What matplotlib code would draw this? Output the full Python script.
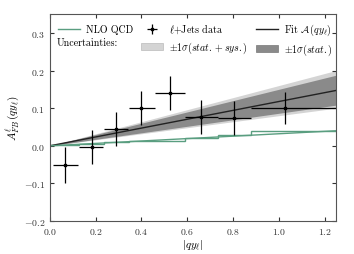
import matplotlib
matplotlib.use("Agg")
import matplotlib.pyplot as plt
import numpy as np
from matplotlib.patches import Patch
from matplotlib.lines import Line2D

plt.rcParams['font.family'] = 'cmr10'
plt.rcParams['mathtext.fontset'] = 'cm'
plt.rcParams['axes.formatter.use_mathtext'] = True

# data points
x_data = [0.066, 0.182, 0.288, 0.40, 0.524, 0.662, 0.805, 1.026]
x_lo = [0.014, 0.128, 0.237, 0.346, 0.458, 0.590, 0.735, 0.880]
x_hi = [0.124, 0.233, 0.342, 0.458, 0.590, 0.735, 0.880, 1.250]
y_data = [-0.052, -0.004, 0.045, 0.100, 0.140, 0.077, 0.073, 0.100]
y_err = [0.048, 0.045, 0.046, 0.045, 0.045, 0.046, 0.045, 0.043]

# NLO QCD step histogram
nlo_edges = [0.0, 0.125, 0.235, 0.345, 0.458, 0.590, 0.735, 0.880, 1.25]
nlo_vals = [0.002, 0.005, 0.009, 0.012, 0.014, 0.021, 0.028, 0.039]
nlo_slope = 0.032

# fit slopes
fit_slope = 0.1176
stat_lo, stat_hi = 0.0864, 0.150
tot_lo, tot_hi = 0.080, 0.160

fig = plt.figure(figsize=(3.54, 2.55), dpi=100)
ax = fig.add_axes([0.141, 0.129, 0.808, 0.812])

xx = np.linspace(0, 1.25, 50)
ax.fill_between(xx, tot_lo * xx, tot_hi * xx, color='#d4d4d4', lw=0)
ax.fill_between(xx, stat_lo * xx, stat_hi * xx, color='#8a8a8a', lw=0)
ax.plot(xx, fit_slope * xx, color='#222222', lw=1.0)

green = '#5a9e80'
ax.stairs(nlo_vals, nlo_edges, color=green, lw=1.0, baseline=None)
ax.plot(xx, nlo_slope * xx, color=green, lw=1.0)

xe = [np.array(x_data) - np.array(x_lo), np.array(x_hi) - np.array(x_data)]
ax.errorbar(x_data, y_data, xerr=xe, yerr=y_err, fmt='s', color='black',
            ms=1.8, lw=0.9, capsize=0)

ax.set_xlim(0, 1.25)
ax.set_ylim(-0.2, 0.35)
ax.set_yticks([-0.2, -0.1, 0.0, 0.1, 0.2, 0.3])
ax.set_xticks([0.0, 0.2, 0.4, 0.6, 0.8, 1.0, 1.2])
ax.tick_params(direction='in', top=True, right=True, labelsize=7, length=3,
               colors='#333333')
for s in ax.spines.values():
    s.set_color('#555555')
ax.set_xlabel(r'$|qy_\ell|$', fontsize=8, labelpad=1)
ax.set_ylabel(r'$A^{\ell}_{FB}\,(qy_\ell)$', fontsize=8, labelpad=2)

h_nlo = Line2D([], [], color=green, lw=1.0)
h_unc = Patch(facecolor='none', edgecolor='none')
h_data = ax.errorbar([], [], xerr=[], yerr=[], fmt='s', color='black', ms=1.8, lw=0.9)
h_tot = Patch(facecolor='#d4d4d4', edgecolor='#bbbbbb', lw=0.5)
h_fit = Line2D([], [], color='#222222', lw=1.0)
h_stat = Patch(facecolor='#8a8a8a', edgecolor='#777777', lw=0.5)
leg = ax.legend([h_nlo, h_unc, h_data, h_tot, h_fit, h_stat],
                ['NLO QCD', '', r'$\ell$+Jets data',
                 r'$\pm1\sigma(stat.+sys.)$', r'Fit $\mathcal{A}\,(qy_\ell)$',
                 r'$\pm1\sigma(stat.)$'],
                ncol=3, loc='upper left', fontsize=7.2, frameon=False,
                handlelength=2.2, columnspacing=0.8, handletextpad=0.6,
                borderaxespad=0.5, borderpad=0.3, labelspacing=0.4)
ax.text(0.025, 0.865, 'Uncertainties:', transform=ax.transAxes, fontsize=7.2,
        va='center', ha='left')

fig.savefig('out.png', dpi=100)
